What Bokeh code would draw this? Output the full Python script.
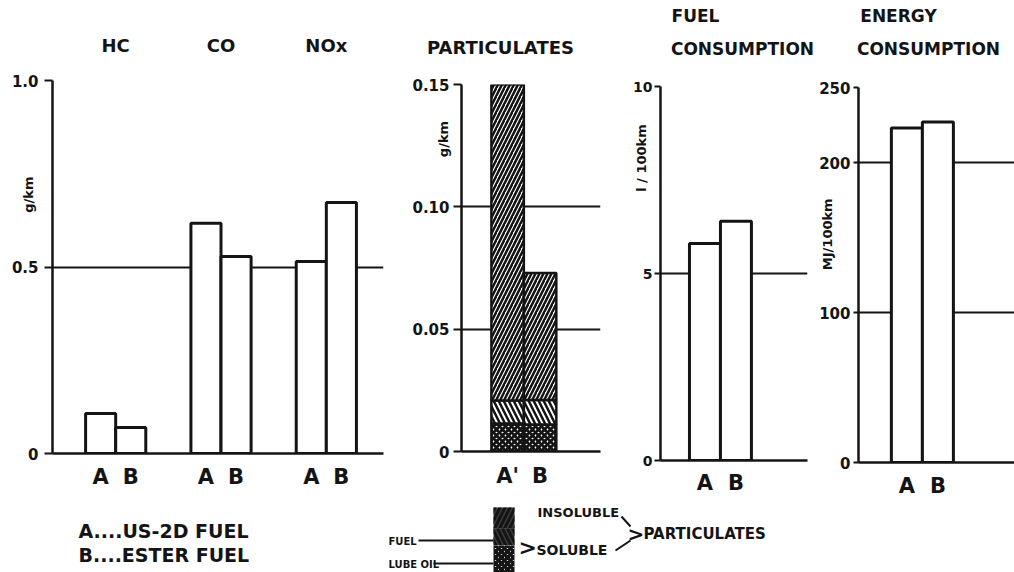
import math
from bokeh.plotting import figure
from bokeh.layouts import row, column
from bokeh.models import (FixedTicker, Label, Range1d, LinearAxis)
from bokeh.embed import file_html
from bokeh.resources import INLINE

FONT = "DejaVu Sans"
INK = "#141414"

# ---------------- data ----------------
fuels = ["A", "B"]
emission_groups = ["HC", "CO", "NOx"]
hc = [0.107, 0.070]
co = [0.617, 0.528]
nox = [0.515, 0.673]

part_x_labels = ["A'", "B"]
part_lube_oil = [0.0114, 0.0110]
part_fuel = [0.0094, 0.0100]
part_insoluble = [0.1292, 0.0520]

fuel_consumption = [5.8, 6.4]
energy_consumption = [223, 227]

emission_ticks = [0, 0.5, 1]
emission_tick_labels = ["0", "0.5", "1.0"]
part_ticks = [0, 0.05, 0.10, 0.15]
part_tick_labels = ["0", "0.05", "0.10", "0.15"]
fuel_ticks = [0, 5, 10]
fuel_tick_labels = ["0", "5", "10"]
energy_ticks = [0, 100, 200, 250]
energy_tick_labels = ["0", "100", "200", "250"]

fuel_legend = ["A....US-2D FUEL", "B....ESTER FUEL"]

TOP_H = 500        # height of the chart row
LEG_H = 72         # height of the legend strip
NBSP = "\u00a0"


def base_fig(width, fig_left, fl, fr, ft, fb, xr, yr):
    p = figure(width=width, height=TOP_H, x_range=Range1d(*xr), y_range=Range1d(*yr),
               output_backend="svg", toolbar_location=None, title=None,
               min_border_left=fl - fig_left, min_border_right=fig_left + width - fr,
               min_border_top=ft, min_border_bottom=TOP_H - fb)
    p.frame_align = False
    p.outline_line_color = None
    p.background_fill_color = "white"
    p.border_fill_color = "white"
    p.xgrid.visible = False
    return p


def px_to_x(px, fl, fr, xr):
    return xr[0] + (px - fl) * (xr[1] - xr[0]) / (fr - fl)


def style_y(p, ticks, labels, size="15px", tick_out=6, standoff=3):
    ax = p.left[0]
    ax.ticker = FixedTicker(ticks=ticks)
    ax.major_label_overrides = dict(zip(ticks, labels))
    ax.axis_line_width = 2.5
    ax.axis_line_color = INK
    ax.major_tick_line_width = 2
    ax.major_tick_line_color = INK
    ax.major_tick_out = tick_out
    ax.major_tick_in = 0
    ax.minor_tick_line_color = None
    ax.major_label_text_font = FONT
    ax.major_label_text_font_style = "bold"
    ax.major_label_text_font_size = size
    ax.major_label_text_color = INK
    ax.major_label_standoff = standoff
    p.ygrid.ticker = FixedTicker(ticks=[t for t in ticks if t != 0])
    p.ygrid.grid_line_color = INK
    p.ygrid.grid_line_width = 2


def add_ylabel(p, text, shift, standoff):
    """axis that only carries the rotated unit label; 'shift' pads it towards the top"""
    ax = LinearAxis(ticker=FixedTicker(ticks=[]), axis_label=NBSP * shift + text,
                    axis_label_standoff=standoff, axis_line_color=None,
                    major_tick_line_color=None, minor_tick_line_color=None,
                    major_tick_out=0, major_tick_in=0,
                    axis_label_text_font=FONT, axis_label_text_font_style="bold",
                    axis_label_text_font_size="13px", axis_label_text_color=INK)
    p.add_layout(ax, "left")


def style_x(p, centers, labels, standoff):
    ax = p.below[0]
    ax.ticker = FixedTicker(ticks=centers)
    ax.major_label_overrides = dict(zip(centers, labels))
    ax.axis_line_width = 2.5
    ax.axis_line_color = INK
    ax.major_tick_line_color = None
    ax.major_tick_out = 0
    ax.minor_tick_line_color = None
    ax.major_label_text_font = FONT
    ax.major_label_text_font_style = "bold"
    ax.major_label_text_font_size = "21px"
    ax.major_label_text_color = INK
    ax.major_label_standoff = standoff


def add_top_labels(p, xs, texts, standoff, size):
    ax = LinearAxis(ticker=FixedTicker(ticks=xs),
                    major_label_overrides=dict(zip(xs, texts)),
                    axis_line_color=None, major_tick_line_color=None,
                    major_tick_out=0, major_tick_in=0,
                    minor_tick_line_color=None, major_label_standoff=standoff,
                    major_label_text_font=FONT, major_label_text_font_style="bold",
                    major_label_text_font_size=size, major_label_text_color=INK)
    p.add_layout(ax, "above")


BAR = dict(width=1, fill_color="white", line_color=INK, line_width=3)

# ---------------- panel 1: HC / CO / NOx ----------------
g1 = (52, 383, 80, 453)
xr1 = (-1.1, 9.9)
p1 = base_fig(385, 0, *g1, xr1, (0, 1))
style_y(p1, emission_ticks, emission_tick_labels, tick_out=8, standoff=6)
add_ylabel(p1, "g/km", 32, -27)

gap = 3.5
em_x, em_v, em_lab, grp_x = [], [], [], []
for gi, vals in enumerate([hc, co, nox]):
    grp_x.append(gi * gap + len(fuels) / 2)
    for fi, v in enumerate(vals):
        em_x.append(gi * gap + fi + 0.5)
        em_v.append(v)
        em_lab.append(fuels[fi])
p1.vbar(x=em_x, top=em_v, bottom=0, **BAR)
style_x(p1, em_x, em_lab, 11)
add_top_labels(p1, grp_x, emission_groups, 25, "18px")

# ---------------- panel 2: particulates ----------------
g2 = (461, 600, 84, 451)
xr2 = (-0.92, 3.36)
p2 = base_fig(245, 385, *g2, xr2, (0, 0.15))
style_y(p2, part_ticks, part_tick_labels, tick_out=8, standoff=4)
add_ylabel(p2, "g/km", 57, -41)
add_top_labels(p2, [px_to_x(500, g2[0], g2[1], xr2)], ["PARTICULATES"], 27, "18px")

px = [i + 0.5 for i in range(len(part_x_labels))]
lube_top = list(part_lube_oil)
fuel_top = [a + b for a, b in zip(lube_top, part_fuel)]
ins_top = [a + b for a, b in zip(fuel_top, part_insoluble)]
LUBE = dict(fill_color="white", hatch_pattern="x", hatch_color=INK,
            hatch_scale=6, hatch_weight=3)
FUELH = dict(fill_color="white", hatch_pattern="\\", hatch_color=INK,
             hatch_scale=10, hatch_weight=2.5)
INS = dict(fill_color="white", hatch_pattern="/", hatch_color=INK,
           hatch_scale=8, hatch_weight=2.5)
p2.vbar(x=px, bottom=0, top=lube_top, width=1, line_color=INK, line_width=2.5, **LUBE)
p2.vbar(x=px, bottom=lube_top, top=fuel_top, width=1, line_color=INK, line_width=2.5, **FUELH)
p2.vbar(x=px, bottom=fuel_top, top=ins_top, width=1, line_color=INK, line_width=2.5, **INS)
style_x(p2, px, part_x_labels, 12)

# ---------------- panel 3: fuel consumption ----------------
g3 = (660, 807, 86, 460)
xr3 = (-0.935, 3.81)
p3 = base_fig(185, 630, *g3, xr3, (0, 10))
style_y(p3, fuel_ticks, fuel_tick_labels, size="14px", tick_out=6, standoff=2)
add_ylabel(p3, "l / 100km", 51, -18)
add_top_labels(p3, [px_to_x(742, g3[0], g3[1], xr3)], ["CONSUMPTION"], 28, "17px")
add_top_labels(p3, [px_to_x(695, g3[0], g3[1], xr3)], ["FUEL"], 10, "17px")
fx = [i + 0.5 for i in range(len(fuels))]
p3.vbar(x=fx, top=fuel_consumption, bottom=0, **BAR)
style_x(p3, fx, fuels, 10)

# ---------------- panel 4: energy consumption ----------------
g4 = (858, 1014, 87, 462)
xr4 = (-1.06, 3.97)
p4 = base_fig(199, 815, *g4, xr4, (0, 250))
style_y(p4, energy_ticks, energy_tick_labels, tick_out=5, standoff=3)
add_ylabel(p4, "MJ/100km", 18, -18)
add_top_labels(p4, [px_to_x(928, g4[0], g4[1], xr4)], ["CONSUMPTION"], 29, "17px")
add_top_labels(p4, [px_to_x(898, g4[0], g4[1], xr4)], ["ENERGY"], 10, "17px")
ex = [i + 0.5 for i in range(len(fuels))]
p4.vbar(x=ex, top=energy_consumption, bottom=0, **BAR)
style_x(p4, ex, fuels, 11)

# ---------------- legend strip (screen-like coordinates) ----------------
leg = figure(width=1014, height=LEG_H, x_range=Range1d(0, 1014),
             y_range=Range1d(TOP_H + LEG_H, TOP_H), output_backend="svg",
             toolbar_location=None, title=None, x_axis_location=None,
             y_axis_location=None, min_border=0)
leg.frame_align = False
leg.outline_line_color = None
leg.grid.visible = False
leg.background_fill_color = "white"
leg.border_fill_color = "white"


def ltext(x, y, text, size):
    leg.add_layout(Label(x=x, y=y, text=text, text_font=FONT, text_font_style="bold",
                         text_font_size=size, text_color=INK, text_align="left",
                         text_baseline="middle"))


ltext(78, 530, fuel_legend[0], "19px")
ltext(78, 554, fuel_legend[1], "19px")

leg.quad(left=[493], right=[514], top=[507], bottom=[528], line_color=None,
         fill_color="#3a3a3a", hatch_pattern="/", hatch_color=INK, hatch_scale=10, hatch_weight=3)
leg.quad(left=[493], right=[514], top=[528], bottom=[545], line_color=None,
         fill_color="#3a3a3a", hatch_pattern="\\", hatch_color=INK, hatch_scale=10, hatch_weight=3)
leg.quad(left=[493], right=[514], top=[545], bottom=[580], line_color=None,
         fill_color="white", hatch_pattern="x", hatch_color=INK, hatch_scale=6, hatch_weight=3.5)

ltext(388, 541, "FUEL", "10px")
ltext(388, 564, "LUBE OIL", "10px")
leg.segment(x0=[418, 433], y0=[540, 563], x1=[493, 493], y1=[540, 563],
            line_color=INK, line_width=2)
ltext(518, 547, ">", "22px")
ltext(536, 549, "SOLUBLE", "14px")
ltext(537, 512, "INSOLUBLE", "13px")
leg.segment(x0=[621, 615], y0=[516, 550], x1=[630, 630], y1=[526, 540],
            line_color=INK, line_width=2)
ltext(627, 533, ">", "20px")
ltext(643, 533, "PARTICULATES", "15px")

layout = column(row(p1, p2, p3, p4, spacing=0), leg, spacing=0)
open("out.html", "w").write(file_html(layout, INLINE))
